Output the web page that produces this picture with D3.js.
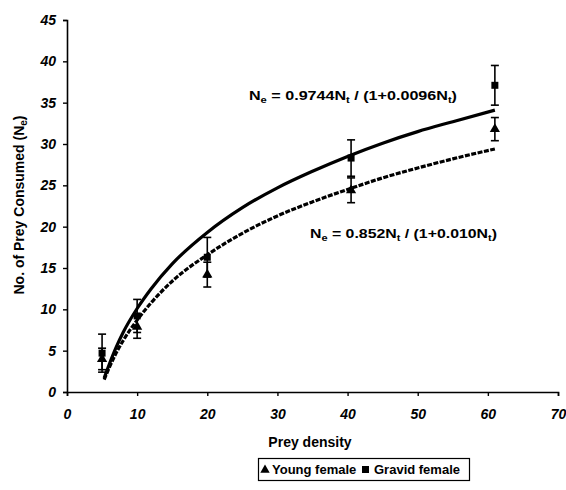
<!DOCTYPE html>
<html>
<head>
<meta charset="utf-8">
<script src="https://cdn.jsdelivr.net/npm/d3@7"></script>
<style>
  body { margin: 0; background: #fff; }
  svg text { font-family: "Liberation Sans", Arial, sans-serif; fill: #000; }
</style>
</head>
<body>
<svg id="chart" width="566" height="490"></svg>
<script>
// data
var preyDensity = [5, 10, 20, 40.5, 61];
var youngFemale = [4.0, 7.9, 14.2, 24.4, 31.8];
var youngErr = [1.3, 1.4, 1.5, 1.5, 1.4];
var gravidFemale = [4.7, 9.2, 16.3, 28.3, 37.1];
var gravidErr = [2.3, 2.0, 2.4, 2.2, 2.4];

// fitted curves
var curveX = [5.3, 6, 7, 8, 10, 12, 15, 20, 25, 30, 35, 40, 45, 50, 55, 61];
var gravidCurve = [1.7, 3.3, 5.4, 7.2, 10.1, 12.5, 15.5, 19.3, 22.3, 24.7, 26.7, 28.5, 30.1, 31.5, 32.7, 34.1];
var youngCurve = [1.5, 2.9, 4.7, 6.2, 8.7, 10.8, 13.4, 16.6, 19.2, 21.3, 23.0, 24.5, 25.9, 27.1, 28.2, 29.4];

var xTicks = [0, 10, 20, 30, 40, 50, 60, 70];
var yTicks = [0, 5, 10, 15, 20, 25, 30, 35, 40, 45];

var svg = d3.select('#chart');

var x = d3.scaleLinear().domain([0, 70]).range([67, 558]);
var y = d3.scaleLinear().domain([0, 45]).range([392, 20]);

/* axes */
var xAxis = d3.axisBottom(x).tickValues(xTicks).tickSize(4).tickPadding(13);
var yAxis = d3.axisLeft(y).tickValues(yTicks).tickSize(4).tickPadding(7);

var gx = svg.append('g')
    .attr('transform', 'translate(0,' + y(0) + ')')
    .call(xAxis);
var gy = svg.append('g')
    .attr('transform', 'translate(' + x(0) + ',0)')
    .call(yAxis);

[gx, gy].forEach(function (g) {
    g.select('.domain').attr('stroke', '#000').attr('stroke-width', 1.6);
    g.selectAll('.tick line').attr('stroke', '#000').attr('stroke-width', 1.4);
    g.selectAll('.tick text')
        .style('font-family', '"Liberation Sans", Arial, sans-serif')
        .style('font-size', '14px')
        .style('font-weight', 'bold')
        .style('font-style', 'italic')
        .attr('fill', '#000');
});

/* axis titles */
svg.append('text')
    .attr('x', 310)
    .attr('y', 447)
    .attr('text-anchor', 'middle')
    .style('font-size', '14px')
    .style('font-weight', 'bold')
    .text('Prey density');

var yt = svg.append('text')
    .attr('transform', 'translate(24,205) rotate(-90)')
    .attr('text-anchor', 'middle')
    .style('font-size', '14px')
    .style('font-weight', 'bold');
yt.append('tspan').text('No. of Prey Consumed (N');
yt.append('tspan').attr('dy', 3).style('font-size', '10px').text('e');
yt.append('tspan').attr('dy', -3).text(')');

/* fitted curves */
var line = d3.line()
    .x(function (d) { return x(d[0]); })
    .y(function (d) { return y(d[1]); })
    .curve(d3.curveMonotoneX);

svg.append('path')
    .datum(d3.zip(curveX, youngCurve))
    .attr('d', line)
    .attr('fill', 'none')
    .attr('stroke', '#000')
    .attr('stroke-width', 3.2)
    .attr('stroke-dasharray', '5,1.5');

svg.append('path')
    .datum(d3.zip(curveX, gravidCurve))
    .attr('d', line)
    .attr('fill', 'none')
    .attr('stroke', '#000')
    .attr('stroke-width', 3.2);

/* error bars */
function errorBars(vals, errs) {
    var g = svg.append('g').attr('stroke', '#000').attr('stroke-width', 1.6);
    preyDensity.forEach(function (px, i) {
        var cx = x(px);
        g.append('line')
            .attr('x1', cx).attr('x2', cx)
            .attr('y1', y(vals[i] - errs[i])).attr('y2', y(vals[i] + errs[i]));
        [vals[i] - errs[i], vals[i] + errs[i]].forEach(function (v) {
            g.append('line')
                .attr('x1', cx - 4).attr('x2', cx + 4)
                .attr('y1', y(v)).attr('y2', y(v));
        });
    });
}
errorBars(youngFemale, youngErr);
errorBars(gravidFemale, gravidErr);

/* markers */
var tri = d3.symbol().type(d3.symbolTriangle).size(45);
svg.append('g').selectAll('path')
    .data(d3.zip(preyDensity, youngFemale))
    .join('path')
    .attr('d', tri)
    .attr('transform', function (d) { return 'translate(' + x(d[0]) + ',' + y(d[1]) + ')'; })
    .attr('fill', '#000');

svg.append('g').selectAll('rect')
    .data(d3.zip(preyDensity, gravidFemale))
    .join('rect')
    .attr('x', function (d) { return x(d[0]) - 3.5; })
    .attr('y', function (d) { return y(d[1]) - 3.5; })
    .attr('width', 7)
    .attr('height', 7)
    .attr('fill', '#000');

/* equations */
function equation(px, py, parts, len) {
    var t = svg.append('text')
        .attr('x', px).attr('y', py)
        .attr('textLength', len)
        .attr('lengthAdjust', 'spacingAndGlyphs')
        .style('font-size', '13px')
        .style('font-weight', 'bold');
    parts.forEach(function (p) {
        var s = t.append('tspan').text(p[0]);
        if (p[1]) s.attr('dy', p[1]);
        if (p[2]) s.style('font-size', '9px');
    });
}
equation(249, 100, [['N'], ['e', 3, true], [' = 0.9744N', -3], ['t', 3, true], [' / (1+0.0096N', -3], ['t', 3, true], [')', -3]], 208);
equation(310, 238, [['N'], ['e', 3, true], [' = 0.852N', -3], ['t', 3, true], [' / (1+0.010N', -3], ['t', 3, true], [')', -3]], 187);

/* legend */
var lg = svg.append('g');
lg.append('rect')
    .attr('x', 258.5).attr('y', 458.5)
    .attr('width', 211).attr('height', 22)
    .attr('fill', 'none')
    .attr('stroke', '#000')
    .attr('stroke-width', 1.2);
lg.append('path')
    .attr('d', d3.symbol().type(d3.symbolTriangle).size(38))
    .attr('transform', 'translate(265,470)');
lg.append('text')
    .attr('x', 272).attr('y', 474)
    .style('font-size', '13px')
    .style('font-weight', 'bold')
    .text('Young female');
lg.append('rect')
    .attr('x', 362).attr('y', 466)
    .attr('width', 7).attr('height', 7);
lg.append('text')
    .attr('x', 374).attr('y', 474)
    .style('font-size', '13px')
    .style('font-weight', 'bold')
    .text('Gravid female');
</script>
</body>
</html>
